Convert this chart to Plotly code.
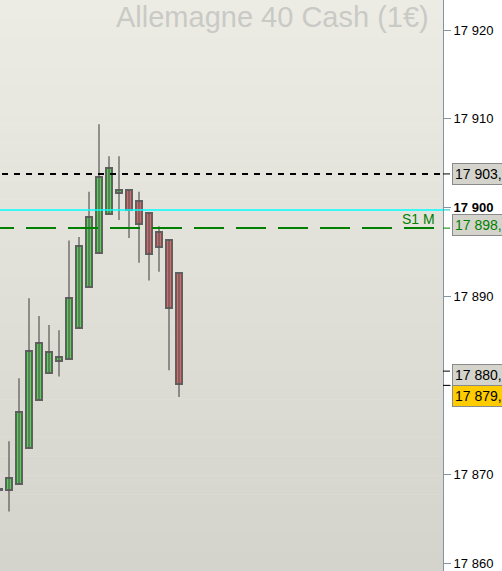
import plotly.graph_objects as go

# ---- data ----
opens  = [17868.3, 17868.2, 17868.9, 17872.9, 17878.4, 17881.4, 17882.7, 17883.0, 17886.4, 17891.1,
          17894.9, 17899.3, 17901.7, 17902.0, 17900.8, 17899.4, 17897.3, 17896.4, 17892.6]
highs  = [17868.4, 17873.7, 17880.8, 17889.8, 17887.8, 17886.8, 17886.2, 17896.3, 17896.7, 17901.8,
          17909.4, 17905.8, 17905.8, 17902.0, 17901.8, 17899.4, 17897.9, 17896.4, 17892.6]
lows   = [17868.2, 17865.8, 17868.9, 17872.9, 17878.4, 17881.4, 17881.0, 17883.0, 17886.4, 17891.1,
          17894.9, 17899.3, 17898.6, 17896.6, 17893.8, 17891.8, 17892.8, 17881.7, 17878.7]
closes = [17868.2, 17869.6, 17877.0, 17883.9, 17884.8, 17883.7, 17883.2, 17889.8, 17895.7, 17899.0,
          17903.5, 17904.5, 17902.0, 17899.7, 17898.2, 17894.8, 17895.6, 17888.7, 17880.1]
candle_idx = list(range(len(opens)))

resistance_level = 17903.8   # black dashed
pivot_level = 17899.75       # cyan
s1_level = 17897.7           # green dashed "S1 M"

tick_vals = [17920, 17910, 17900, 17890, 17880, 17870, 17860]
tick_text = ["17 920", "17 910", "<b>17 900</b>", "17 890", "17 880", "17 870", "17 860"]

box_labels = ["17 903,8", "17 898,0", "17 880,1", "17 879,6"]
box_levels = [17903.8, 17898.1, 17881.2, 17878.85]

title_text = "Allemagne 40 Cash (1€)"

# ---- figure ----
fig = go.Figure()

# wicks
wx, wy = [], []
for i, h, l in zip(candle_idx, highs, lows):
    wx += [i, i, None]
    wy += [l, h, None]
fig.add_trace(go.Scatter(x=wx, y=wy, mode="lines",
                         line=dict(color="#555555", width=1.2),
                         hoverinfo="skip", showlegend=False))

# bodies
body_colors = ["#4fd64f" if c > o else ("#e06565" if c < o else "#606060")
               for o, c in zip(opens, closes)]
fig.add_trace(go.Bar(x=candle_idx, y=[c - o for o, c in zip(opens, closes)], base=opens,
                     width=0.52, marker=dict(color=body_colors, line=dict(color="#606060", width=2)),
                     showlegend=False))

# horizontal levels
fig.add_trace(go.Scatter(x=[0.3, 60], y=[resistance_level] * 2, mode="lines",
                         line=dict(color="black", width=2, dash="6px,6px"),
                         hoverinfo="skip", showlegend=False))
fig.add_trace(go.Scatter(x=[-5, 60], y=[pivot_level] * 2, mode="lines",
                         line=dict(color="#00ffff", width=1.5),
                         hoverinfo="skip", showlegend=False))
fig.add_trace(go.Scatter(x=[-1.5, 60], y=[s1_level] * 2, mode="lines",
                         line=dict(color="#008000", width=2, dash="30px,12px"),
                         hoverinfo="skip", showlegend=False))

# background gradient (bands)
shapes = []
n = 60
top = (237, 236, 228)
bot = (212, 212, 204)
for k in range(n):
    t = k / (n - 1)
    col = tuple(round(top[j] + (bot[j] - top[j]) * t) for j in range(3))
    shapes.append(dict(type="rect", xref="paper", yref="paper", x0=0, x1=1,
                       y0=1 - (k + 1) / n, y1=1 - k / n + 0.001,
                       fillcolor="rgb(%d,%d,%d)" % col, line=dict(width=0), layer="below"))

# small ticks for labels at the axis
tick_marks = [(resistance_level, "black"), (pivot_level, "#00c8c8"), (s1_level, "#008000"),
              (17881.6, "black"), (17880.0, "black")]
for v, c in tick_marks:
    shapes.append(dict(type="line", xref="paper", yref="y", x0=1.0, x1=1.0 + 7 / 443,
                       y0=v, y1=v, line=dict(color=c, width=1)))

annotations = []
annotations.append(dict(text=title_text, xref="paper", yref="paper", x=1, y=1,
                        xanchor="right", yanchor="top", xshift=-12, yshift=1, showarrow=False,
                        font=dict(family="Liberation Sans, Arial", size=29, color="#c9cac6")))
annotations.append(dict(text="S1 M", xref="paper", yref="y", x=1, y=s1_level,
                        xanchor="right", yanchor="bottom", xshift=-6, yshift=-1, showarrow=False,
                        font=dict(family="Liberation Sans, Arial", size=14, color="#008000")))

box_styles = [("#d4d4cc", "#000000"), ("#d4d4cc", "#008000"), ("#d4d4cc", "#000000"), ("#ffcc00", "#000000")]
for txt, v, (bg, fc) in zip(box_labels, box_levels, box_styles):
    annotations.append(dict(text=txt, xref="paper", yref="y", x=1, y=v, xanchor="left",
                            yanchor="middle", xshift=9, showarrow=False, align="left",
                            bgcolor=bg, bordercolor="#8a8a8a", borderwidth=1, borderpad=2,
                            font=dict(family="Liberation Sans, Arial", size=14, color=fc)))

fig.update_layout(
    width=502, height=571,
    margin=dict(l=0, r=59, t=0, b=0),
    paper_bgcolor="white", plot_bgcolor="rgba(0,0,0,0)",
    shapes=shapes, annotations=annotations,
    bargap=0, showlegend=False,
    xaxis=dict(range=[0.1, 44.4], visible=False, fixedrange=True),
    yaxis=dict(range=[17859.1, 17923.38], side="right", showgrid=False, zeroline=False,
               showline=True, linecolor="#8393a0", linewidth=1,
               ticks="outside", ticklen=7, tickcolor="#8393a0",
               tickvals=tick_vals, ticktext=tick_text,
               tickfont=dict(family="Liberation Sans, Arial", size=13, color="black")),
)

fig.write_html("out.html", config={"displayModeBar": False},
               post_script="document.body.style.margin='0';document.body.style.overflow='hidden';")
